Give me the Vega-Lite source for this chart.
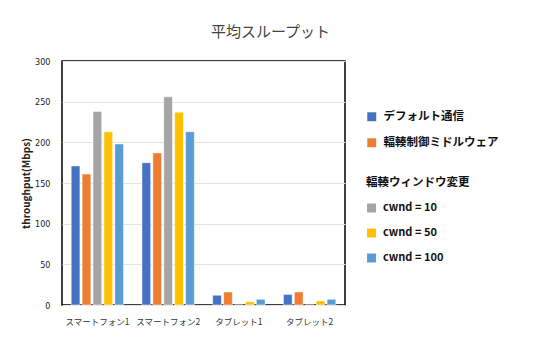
{
  "$schema": "https://vega.github.io/schema/vega-lite/v6.json",
  "autosize": {"type": "none"},
  "width": 283,
  "height": 244,
  "padding": {"left": 62, "top": 61, "right": 194, "bottom": 40},
  "background": "white",
  "config": {
    "font": "Noto Sans CJK JP",
    "view": {"stroke": "#000000", "strokeWidth": 1.5},
    "axis": {"labelFont": "Noto Sans CJK JP", "titleFont": "Noto Sans CJK JP"},
    "legend": {"labelFont": "Noto Sans CJK JP", "titleFont": "Noto Sans CJK JP"}
  },
  "title": {
    "text": "平均スループット",
    "fontSize": 15,
    "fontWeight": "normal",
    "color": "#444444",
    "anchor": "middle",
    "dx": 67,
    "offset": 17
  },
  "data": {
    "values": [
      {"device": "スマートフォン1", "series": "デフォルト通信", "group": "a", "value": 171},
      {"device": "スマートフォン1", "series": "輻輳制御ミドルウェア", "group": "a", "value": 161},
      {"device": "スマートフォン1", "series": "cwnd = 10", "group": "b", "value": 238},
      {"device": "スマートフォン1", "series": "cwnd = 50", "group": "b", "value": 213},
      {"device": "スマートフォン1", "series": "cwnd = 100", "group": "b", "value": 198},
      {"device": "スマートフォン2", "series": "デフォルト通信", "group": "a", "value": 175},
      {"device": "スマートフォン2", "series": "輻輳制御ミドルウェア", "group": "a", "value": 187},
      {"device": "スマートフォン2", "series": "cwnd = 10", "group": "b", "value": 256},
      {"device": "スマートフォン2", "series": "cwnd = 50", "group": "b", "value": 237},
      {"device": "スマートフォン2", "series": "cwnd = 100", "group": "b", "value": 213},
      {"device": "タブレット1", "series": "デフォルト通信", "group": "a", "value": 12},
      {"device": "タブレット1", "series": "輻輳制御ミドルウェア", "group": "a", "value": 16},
      {"device": "タブレット1", "series": "cwnd = 10", "group": "b", "value": 0},
      {"device": "タブレット1", "series": "cwnd = 50", "group": "b", "value": 4},
      {"device": "タブレット1", "series": "cwnd = 100", "group": "b", "value": 7},
      {"device": "タブレット2", "series": "デフォルト通信", "group": "a", "value": 13},
      {"device": "タブレット2", "series": "輻輳制御ミドルウェア", "group": "a", "value": 16},
      {"device": "タブレット2", "series": "cwnd = 10", "group": "b", "value": 0},
      {"device": "タブレット2", "series": "cwnd = 50", "group": "b", "value": 5},
      {"device": "タブレット2", "series": "cwnd = 100", "group": "b", "value": 7}
    ]
  },
  "encoding": {
    "x": {
      "field": "device",
      "type": "nominal",
      "sort": null,
      "scale": {"paddingInner": 0.26, "paddingOuter": 0.13},
      "axis": {
        "title": null,
        "labelAngle": 0,
        "labelFontSize": 8.5,
        "labelColor": "#333333",
        "ticks": false,
        "domain": false,
        "labelPadding": 12
      }
    },
    "xOffset": {
      "field": "series",
      "type": "nominal",
      "scale": {
        "domain": ["デフォルト通信", "輻輳制御ミドルウェア", "cwnd = 10", "cwnd = 50", "cwnd = 100"],
        "paddingInner": 0.2
      }
    },
    "y": {
      "field": "value",
      "type": "quantitative",
      "scale": {"domain": [0, 300]},
      "axis": {
        "title": "throughput(Mbps)",
        "titleFontSize": 10,
        "titleFontWeight": "bold",
        "titleColor": "#222222",
        "titlePadding": 3,
        "values": [0, 50, 100, 150, 200, 250, 300],
        "labelFont": "DejaVu Sans Condensed",
        "labelFontSize": 9,
        "labelColor": "#222222",
        "ticks": false,
        "domain": false,
        "gridColor": "#e4e4e4",
        "gridWidth": 1.2,
        "labelPadding": 12
      }
    }
  },
  "layer": [
    {
      "transform": [{"filter": "datum.group === 'a'"}],
      "mark": {"type": "bar", "stroke": "white", "strokeWidth": 0.5},
      "encoding": {
        "color": {
          "field": "series",
          "type": "nominal",
          "scale": {
            "domain": ["デフォルト通信", "輻輳制御ミドルウェア"],
            "range": ["#4472C4", "#ED7D31"]
          },
          "legend": {
            "title": null,
            "orient": "none",
            "legendX": 304,
            "legendY": 50,
            "symbolType": "square",
            "symbolSize": 80,
            "symbolStrokeWidth": 0,
            "labelFontSize": 11.5,
            "labelFontWeight": "bold",
            "labelColor": "#111111",
            "rowPadding": 13,
            "labelOffset": 6
          }
        }
      }
    },
    {
      "transform": [{"filter": "datum.group === 'b'"}],
      "mark": {"type": "bar", "stroke": "white", "strokeWidth": 0.5},
      "encoding": {
        "fill": {
          "field": "series",
          "type": "nominal",
          "scale": {
            "domain": ["cwnd = 10", "cwnd = 50", "cwnd = 100"],
            "range": ["#A5A5A5", "#FFC000", "#5B9BD5"]
          },
          "legend": {
            "title": "輻輳ウィンドウ変更",
            "orient": "none",
            "legendX": 304,
            "legendY": 116,
            "titleFontSize": 11.5,
            "titleFontWeight": "bold",
            "titleColor": "#111111",
            "titlePadding": 14,
            "symbolType": "square",
            "symbolSize": 80,
            "symbolStrokeWidth": 0,
            "labelFontSize": 11,
            "labelFontWeight": "bold",
            "labelColor": "#111111",
            "rowPadding": 13,
            "labelOffset": 6
          }
        }
      }
    }
  ]
}
